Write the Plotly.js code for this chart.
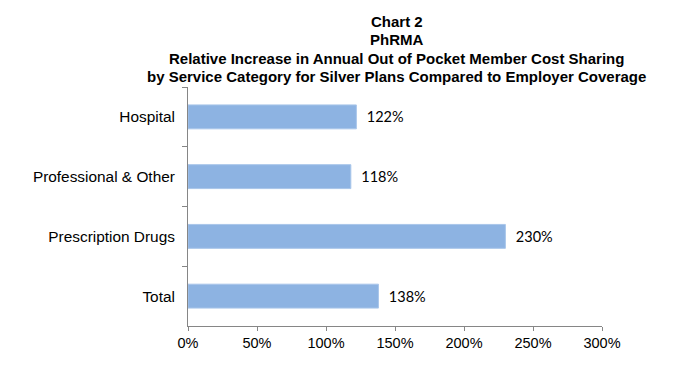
<!DOCTYPE html>
<html><head><meta charset="utf-8">
<script src="https://cdn.plot.ly/plotly-3.0.1.min.js"></script>
<style>html,body{margin:0;padding:0;background:#fff}#chart{width:676px;height:366px}</style>
</head><body><div id="chart"></div>
<script>
const categories = ["Hospital", "Professional & Other", "Prescription Drugs", "Total"];
const values = [122, 118, 230, 138];
const xTicks = [0, 50, 100, 150, 200, 250, 300];
const xTickLabels = ["0%", "50%", "100%", "150%", "200%", "250%", "300%"];
const titleLines = [
  "Chart 2",
  "PhRMA",
  "Relative Increase in Annual Out of Pocket Member Cost Sharing",
  "by Service Category for Silver Plans Compared to Employer Coverage"
];
const titleLineY = [1.272, 1.1967, 1.1201, 1.0439];

const trace = {
  type: "bar",
  orientation: "h",
  y: categories,
  x: values,
  width: 0.4,
  marker: {color: "#8DB3E2", line: {color: "#A9C6EA", width: 1}},
  texttemplate: "\u00a0\u00a0%{x}%",
  textposition: "outside",
  cliponaxis: false,
  textfont: {family: "Lato, 'Open Sans', sans-serif", size: 14.5, color: "#000"},
  hoverinfo: "none"
};

const annotations = titleLines.map((t, i) => ({
  text: "<b>" + t + "</b>",
  xref: "paper", yref: "paper",
  x: 0.5045, y: titleLineY[i],
  xanchor: "center", yanchor: "middle",
  showarrow: false,
  font: {family: "'Liberation Sans', Arial, sans-serif", size: 15, color: "#000"}
}));

const layout = {
  width: 676, height: 366,
  margin: {l: 188, r: 74, t: 87, b: 40},
  paper_bgcolor: "#fff", plot_bgcolor: "#fff",
  showlegend: false,
  font: {family: "'Liberation Sans', Arial, sans-serif", size: 14, color: "#000"},
  annotations: annotations,
  xaxis: {
    range: [0, 300], tickvals: xTicks, ticktext: xTickLabels,
    showgrid: false, zeroline: false, showline: true, linecolor: "#868686", linewidth: 1,
    ticks: "outside", ticklen: 4, tickcolor: "#868686",
    tickfont: {size: 14.5}, fixedrange: true
  },
  yaxis: {
    type: "category", categoryorder: "array", categoryarray: categories,
    autorange: "reversed",
    showgrid: false, zeroline: false, showline: true, linecolor: "#868686", linewidth: 1,
    ticks: "outside", ticklen: 5, tickcolor: "#868686", tickson: "boundaries",
    tickfont: {size: 15.4}, ticklabelstandoff: 9, fixedrange: true
  }
};

Plotly.newPlot("chart", [trace], layout, {staticPlot: true, displayModeBar: false});
</script></body></html>
